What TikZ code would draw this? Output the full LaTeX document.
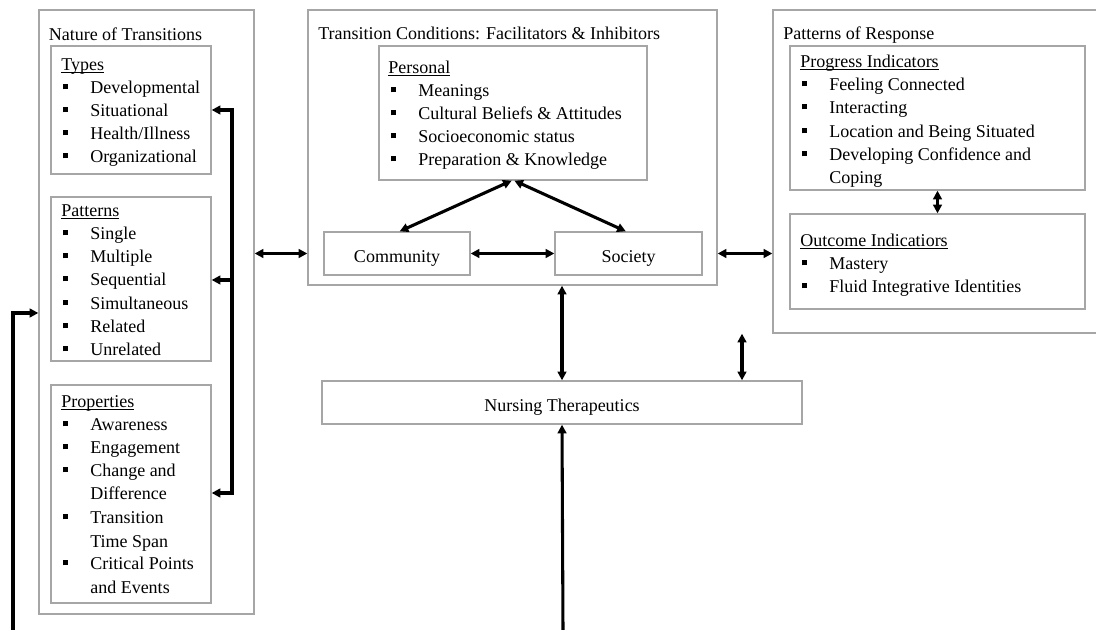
\documentclass[tikz,border=0pt]{standalone}
\usepackage{fontspec}
\setmainfont{Liberation Serif}
\usetikzlibrary{arrows.meta,fit}
\newlength\ulw
\newcommand\myul[1]{\settowidth\ulw{#1}\rlap{\rule[-1.8pt]{\ulw}{0.7pt}}#1}
\newcommand\bull{\rule[3.5pt]{3.75pt}{3.75pt}\hspace{16.5pt}}
\begin{document}
\begin{tikzpicture}[x=0.75pt,y=-0.75pt,
  box/.style={draw=black!35, line width=1pt, inner sep=0pt},
  txt/.style={anchor=base west, inner sep=0pt, font=\fontsize{13.5pt}{16pt}\selectfont},
  ctxt/.style={anchor=base, inner sep=0pt, font=\fontsize{13.5pt}{16pt}\selectfont},
  arrboth/.style={line width=2.3pt, {Triangle[length=6.5pt,width=6.5pt]}-{Triangle[length=6.5pt,width=6.5pt]}},
  arrone/.style={line width=2.3pt, -{Triangle[length=6.5pt,width=6.5pt]}}]
\fill[white] (0,0) rectangle (1096,630);
\useasboundingbox (0,0) rectangle (1096,630);

% boxes
\node[box, fit={(39,10)(254,614)}] (nat) {};
\node[box, fit={(51,46)(211,174)}] (types) {};
\node[box, fit={(51,197)(211,361)}] (patt) {};
\node[box, fit={(51,385)(211,603)}] (props) {};
\node[box, fit={(308,10)(717,285)}] (tc) {};
\node[box, fit={(379,46)(647,180)}] (pers) {};
\node[box, fit={(324,232)(470,275)}] (comm) {};
\node[box, fit={(555,232)(702,275)}] (soc) {};
\node[box, fit={(773,10)(1097,333)}] (pr) {};
\node[box, fit={(790,46)(1085,190)}] (prog) {};
\node[box, fit={(790,214)(1085,309)}] (outc) {};
\node[box, fit={(322,381)(802,424)}] (nurs) {};

% Nature of Transitions
\node[txt] (natt) at (48.5,41) {Nature of Transitions};
\node[txt] (ty0) at (61,71) {\myul{Types}};
\node[txt] (ty1) at (63,94) {\bull Developmental};
\node[txt] (ty2) at (63,117) {\bull Situational};
\node[txt] (ty3) at (63,140) {\bull Health/Illness};
\node[txt] (ty4) at (63,163) {\bull Organizational};
\node[txt] (pa0) at (61,217) {\myul{Patterns}};
\node[txt] (pa1) at (63,240) {\bull Single};
\node[txt] (pa2) at (63,263) {\bull Multiple};
\node[txt] (pa3) at (63,286) {\bull Sequential};
\node[txt] (pa4) at (63,310) {\bull Simultaneous};
\node[txt] (pa5) at (63,333) {\bull Related};
\node[txt] (pa6) at (63,356) {\bull Unrelated};
\node[txt] (pp0) at (61,408) {\myul{Properties}};
\node[txt] (pp1) at (63,431) {\bull Awareness};
\node[txt] (pp2) at (63,454) {\bull Engagement};
\node[txt] (pp3) at (63,477) {\bull Change and};
\node[txt] (pp4) at (90,500) {Difference};
\node[txt] (pp5) at (63,524) {\bull Transition};
\node[txt] (pp6) at (90,547) {Time Span};
\node[txt] (pp7) at (63,570) {\bull Critical Points};
\node[txt] (pp8) at (90,593) {and Events};

% Transition Conditions
\node[txt] (tct) at (318,39.5) {Transition Conditions: Facilitators \& Inhibitors};
\node[txt] (pe0) at (388,74) {\myul{Personal}};
\node[txt] (pe1) at (391,97) {\bull Meanings};
\node[txt] (pe2) at (391,120) {\bull Cultural Beliefs \& Attitudes};
\node[txt] (pe3) at (391,143) {\bull Socioeconomic status};
\node[txt] (pe4) at (391,166) {\bull Preparation \& Knowledge};
\node[ctxt] (commt) at (397,263) {Community};
\node[ctxt] (soct) at (628.5,263) {Society};

% Patterns of Response
\node[txt] (prt) at (783,39.5) {Patterns of Response};
\node[txt] (pg0) at (800,68) {\myul{Progress Indicators}};
\node[txt] (pg1) at (802,91) {\bull Feeling Connected};
\node[txt] (pg2) at (802,114) {\bull Interacting};
\node[txt] (pg3) at (802,138) {\bull Location and Being Situated};
\node[txt] (pg4) at (802,161) {\bull Developing Confidence and};
\node[txt] (pg5) at (829,184) {Coping};
\node[txt] (oc0) at (800,247) {\myul{Outcome Indicatiors}};
\node[txt] (oc1) at (802,270) {\bull Mastery};
\node[txt] (oc2) at (802,293) {\bull Fluid Integrative Identities};

% Nursing Therapeutics
\node[ctxt] (nurst) at (562,412) {Nursing Therapeutics};

% connectors
\coordinate (b1) at (232,110);
\coordinate (b2) at (232,280);
\coordinate (b3) at (232,493);
\draw[arrboth] (types.east |- b1) -- (b1) -- (b3) -- (props.east |- b3);
\draw[arrone] (b2) -- (patt.east |- b2);

\coordinate (l0) at (13,630);
\coordinate (l1) at (13,313);
\draw[arrone] (l0) -- (l1) -- (nat.west |- l1);

\draw[arrboth] (nat.east |- comm.center) -- (tc.west |- comm.center);
\draw[arrboth] (comm.east) -- (soc.west);
\draw[arrboth] (tc.east |- soc.center) -- (pr.west |- soc.center);
\draw[arrboth] ([xshift=-1pt]pers.south) -- ([xshift=2pt]comm.north);
\draw[arrboth] ([xshift=1pt]pers.south) -- ([xshift=-2pt]soc.north);
\draw[arrboth] (prog.south) -- (outc.north);
\draw[arrboth] (nurs.north |- tc.south) -- (nurs.north);
\coordinate (pn) at (742,0);
\draw[arrboth] (pr.south -| pn) -- (nurs.north -| pn);
\coordinate (bt) at (563,630);
\draw[arrone] (bt) -- (nurs.south);
\end{tikzpicture}
\end{document}
